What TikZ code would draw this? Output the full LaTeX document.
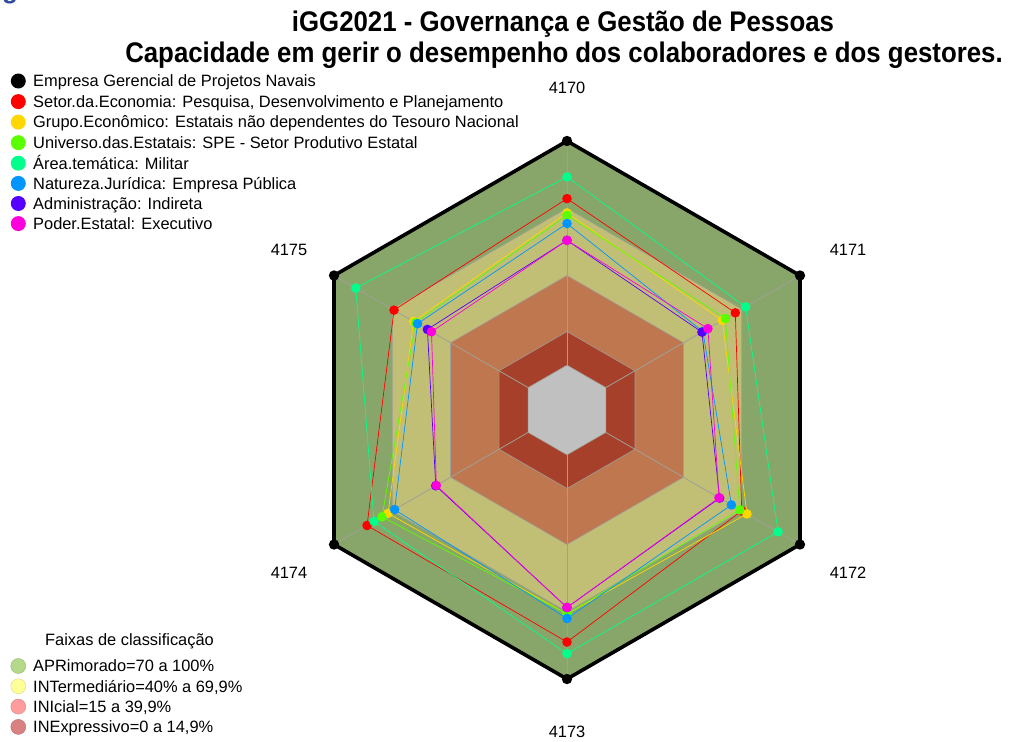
\documentclass[tikz,border=0pt]{standalone}
\usepackage{fontspec}
\setmainfont{Liberation Sans}
\usetikzlibrary{calc}
\definecolor{bandA}{RGB}{137,166,106}
\definecolor{bandB}{RGB}{193,190,118}
\definecolor{bandC}{RGB}{191,119,79}
\definecolor{bandD}{RGB}{167,64,43}
\definecolor{bandE}{RGB}{192,192,192}
\definecolor{gridc}{RGB}{160,160,150}
\definecolor{sRed}{RGB}{255,0,0}
\definecolor{sYel}{RGB}{255,215,0}
\definecolor{sGrn}{RGB}{90,255,0}
\definecolor{sMil}{RGB}{0,255,140}
\definecolor{sBlu}{RGB}{0,150,255}
\definecolor{sPur}{RGB}{85,0,255}
\definecolor{sMag}{RGB}{255,0,220}
\definecolor{lgA}{RGB}{180,217,138}
\definecolor{lgB}{RGB}{255,255,153}
\definecolor{lgC}{RGB}{255,156,156}
\definecolor{lgD}{RGB}{217,128,128}
\definecolor{fragblue}{RGB}{46,74,154}
\newcommand\hexpath[1]{(-90:#1) -- (-30:#1) -- (30:#1) -- (90:#1) -- (150:#1) -- (210:#1) -- cycle}
\newcommand\radarseries[7]{%
  \draw[#1, line width=0.7pt, line join=round]
    (-90:{2.24167*(#2+20)}) -- (-30:{2.24167*(#3+20)}) -- (30:{2.24167*(#4+20)}) --
    (90:{2.24167*(#5+20)}) -- (150:{2.24167*(#6+20)}) -- (210:{2.24167*(#7+20)}) -- cycle;
  \foreach \a/\v in {-90/#2,-30/#3,30/#4,90/#5,150/#6,210/#7}
    \fill[#1] (\a:{2.24167*(\v+20)}) circle[radius=4.8pt];
}
\tikzset{
  lbl/.style={font=\fontsize{16.4}{19}\selectfont, inner sep=0pt},
  legtxt/.style={font=\fontsize{16.4}{19}\selectfont, inner sep=0pt, anchor=base west},
  legdot/.style={radius=7.5pt},
  title/.style={font=\bfseries\fontsize{25.8}{30}\selectfont, inner sep=0pt, anchor=base}
}
\begin{document}
\begin{tikzpicture}[x=1pt,y=-1pt]
\useasboundingbox[fill=white] (0,0) rectangle (1010,742);
% fragment of cut-off text at top-left
\node[font=\bfseries\fontsize{26}{30}\selectfont, text=fragblue, inner sep=0pt, anchor=base west] (frag) at (2,-1.5) {g};
% title
\node[title] (t1) at (563,31) {\scalebox{1}[1.1]{iGG2021 - Governança e Gestão de Pessoas}};
\node[title] (t2) at (564,62) {\scalebox{1}[1.1]{Capacidade em gerir o desempenho dos colaboradores e dos gestores.}};
% radar
\begin{scope}[shift={(567,410)}]
  \fill[bandA] \hexpath{269};
  \fill[bandB] \hexpath{201.75};
  \fill[bandC] \hexpath{134.5};
  \fill[bandD] \hexpath{78.46};
  \fill[bandE] \hexpath{44.83};
  \foreach \r in {44.83,78.46,134.5,201.75}
    \draw[gridc, line width=0.6pt] \hexpath{\r};
  \foreach \a in {-90,-30,30,90,150,210}
    \draw[gridc, line width=0.8pt] (\a:44.83) -- (\a:269);
  \draw[black, line width=3.6pt, line join=miter] \hexpath{269};
  \foreach \a in {-90,-30,30,90,150,210}
    \fill[black] (\a:269) circle[radius=5.2pt];
  \radarseries{sRed}{74.3}{66.7}{70}{83.5}{83}{69.1}
  \radarseries{sYel}{67.9}{60}{72.7}{71}{72.2}{59}
  \radarseries{sGrn}{66.9}{61.6}{69}{71}{75.3}{58}
  \radarseries{sMil}{84}{72}{88.7}{88.7}{79.4}{88.8}
  \radarseries{sBlu}{63.2}{50}{64.7}{73}{68.8}{57}
  \radarseries{sPur}{55.7}{49.5}{58.6}{68.1}{47.6}{51.9}
  \radarseries{sMag}{55.7}{52.6}{58.3}{68.1}{47.3}{49.8}
\end{scope}
% axis labels
\node[lbl] (a0) at (567,88) {4170};
\node[lbl] (a1) at (848,250) {4171};
\node[lbl] (a2) at (848,573) {4172};
\node[lbl] (a3) at (567,732) {4173};
\node[lbl] (a4) at (289,573) {4174};
\node[lbl] (a5) at (289,250) {4175};
% series legend
\fill[black] (18.3,81) circle[legdot];
\node[legtxt] (l1) at (33,86.8) {Empresa Gerencial de Projetos Navais};
\fill[sRed] (18.3,101.6) circle[legdot];
\node[legtxt] (l2) at (33,107.4) {Setor.da.Economia: Pesquisa, Desenvolvimento e Planejamento};
\fill[sYel] (18.3,122.1) circle[legdot];
\node[legtxt] (l3) at (33,127.9) {Grupo.Econômico: Estatais não dependentes do Tesouro Nacional};
\fill[sGrn] (18.3,142.7) circle[legdot];
\node[legtxt] (l4) at (33,148.5) {Universo.das.Estatais: SPE - Setor Produtivo Estatal};
\fill[sMil] (18.3,163.2) circle[legdot];
\node[legtxt] (l5) at (33,169) {Área.temática: Militar};
\fill[sBlu] (18.3,183.4) circle[legdot];
\node[legtxt] (l6) at (33,189.2) {Natureza.Jurídica: Empresa Pública};
\fill[sPur] (18.3,203.5) circle[legdot];
\node[legtxt] (l7) at (33,209.3) {Administração: Indireta};
\fill[sMag] (18.3,223.6) circle[legdot];
\node[legtxt] (l8) at (33,229.4) {Poder.Estatal: Executivo};
% class legend
\node[legtxt] (ft) at (45,645.5) {Faixas de classificação};
\filldraw[fill=lgA, draw=lgA!85!black, line width=0.4pt] (18.3,666) circle[legdot];
\node[legtxt] (f1) at (33,671.8) {APRimorado=70 a 100\%};
\filldraw[fill=lgB, draw=lgB!85!black, line width=0.4pt] (18.3,686.3) circle[legdot];
\node[legtxt] (f2) at (33,692.1) {INTermediário=40\% a 69,9\%};
\filldraw[fill=lgC, draw=lgC!85!black, line width=0.4pt] (18.3,706.6) circle[legdot];
\node[legtxt] (f3) at (33,712.4) {INIcial=15 a 39,9\%};
\filldraw[fill=lgD, draw=lgD!85!black, line width=0.4pt] (18.3,726.9) circle[legdot];
\node[legtxt] (f4) at (33,732.7) {INExpressivo=0 a 14,9\%};
\end{tikzpicture}
\end{document}
